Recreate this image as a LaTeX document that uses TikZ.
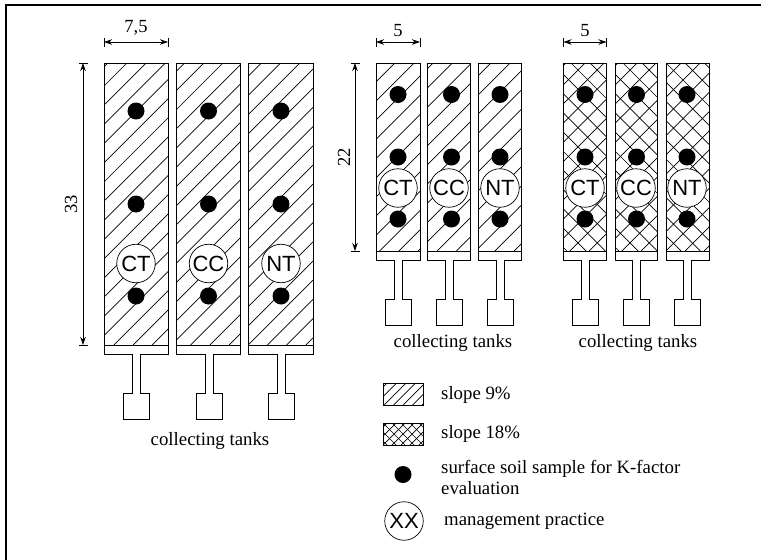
\documentclass[tikz,border=0pt]{standalone}
\usepackage{fontspec}
\setmainfont{Liberation Serif}
\newfontfamily\arialf{Liberation Sans}
\usetikzlibrary{arrows.meta}
\tikzset{
  outline/.style={line width=0.95pt,black,line join=miter},
  hatchline/.style={line width=0.7pt,black},
  samp/.style={circle,fill=black,draw=none,minimum size=17pt,inner sep=0pt},
  mgmt/.style={circle,fill=white,draw=black,line width=0.7pt,minimum size=38.5pt,inner sep=0pt,font=\arialf\fontsize{22}{24}\selectfont},
  caption/.style={anchor=base,inner sep=0pt,font=\fontsize{18.8}{20}\selectfont},
  legendtext/.style={anchor=base west,inner sep=0pt,font=\fontsize{18.8}{20}\selectfont},
  dimtext/.style={inner sep=0pt,font=\fontsize{18.5}{21}\selectfont},
  dimline/.style={line width=0.8pt,black,{Stealth[length=8pt,width=5.5pt]}-{Stealth[length=8pt,width=5.5pt]}},
  dimtick/.style={line width=0.8pt,black},
  frameline/.style={line width=2.2pt,black}
}
% #1 x1, #2 y1, #3 x2, #4 y2, #5 period, #6 phase of x+y
\newcommand{\hatchup}[6]{%
  \begin{scope}
    \clip (#1,#2) rectangle (#3,#4);
    \foreach \n in {0,...,120} {
      \pgfmathsetmacro{\cc}{#6+#5*\n-#5*30}
      \draw[hatchline] ({\cc-#2},#2) -- ({\cc-#4},#4);
    }
  \end{scope}}
\newcommand{\hatchdown}[6]{%
  \begin{scope}
    \clip (#1,#2) rectangle (#3,#4);
    \foreach \n in {0,...,120} {
      \pgfmathsetmacro{\cc}{#6+#5*\n-#5*30}
      \draw[hatchline] ({\cc+#2},#2) -- ({\cc+#4},#4);
    }
  \end{scope}}
% #1 x1, #2 x2, #3 channel centre, #4 inner y, #5 bottom y, #6 channel end y, #7 tank end y
\newcommand{\plateframe}[7]{%
  \draw[outline] (#1,63) rectangle (#2,#4);
  \draw[outline] (#1,#4) -- (#1,#5) -- ({#3-4},#5) -- ({#3-4},#6) -- ({#3-13},#6) -- ({#3-13},#7)
     -- ({#3+13},#7) -- ({#3+13},#6) -- ({#3+4},#6) -- ({#3+4},#5) -- (#2,#5) -- (#2,#4);
}
\begin{document}
\begin{tikzpicture}[x=1pt,y=-1pt]
\useasboundingbox (0,0) rectangle (761,560);
\draw[frameline] (761,5) -- (6,5) -- (6,560);

% large plots
\hatchup{104}{63}{168}{345}{19.2}{190}
\hatchup{176.5}{63}{240}{345}{19.2}{190}
\hatchup{248.5}{63}{313}{345}{19.2}{190}
\plateframe{104}{168}{136}{345}{354}{393}{419}
\plateframe{176.5}{240}{209}{345}{354}{393}{419}
\plateframe{248.5}{313}{281}{345}{354}{393}{419}

\foreach \nm/\xx in {a/136,b/208.5,c/281} {
  \node[samp] (\nm1) at (\xx,111) {};
  \node[samp] (\nm2) at (\xx,204) {};
  \node[samp] (\nm3) at (\xx,296) {};
}
\node[mgmt] (m1) at (136,263.5) {CT};
\node[mgmt] (m2) at (208.5,263.5) {CC};
\node[mgmt] (m3) at (281,263.5) {NT};

% small plots, 9 %
\hatchup{376}{63}{420}{251}{19.2}{189}
\hatchup{427.5}{63}{470.5}{251}{19.2}{189}
\hatchup{478.5}{63}{521.5}{251}{19.2}{189}
\plateframe{376}{420}{398}{251}{260}{299}{325}
\plateframe{427.5}{470.5}{449}{251}{260}{299}{325}
\plateframe{478.5}{521.5}{500}{251}{260}{299}{325}

% small plots, 18 %
\hatchup{563.5}{63}{606.5}{251}{19.2}{648}
\hatchdown{563.5}{63}{606.5}{251}{19.2}{508}
\hatchup{615}{63}{657.5}{251}{19.2}{700}
\hatchdown{615}{63}{657.5}{251}{19.2}{560}
\hatchup{666}{63}{709}{251}{19.2}{744}
\hatchdown{666}{63}{709}{251}{19.2}{603}
\plateframe{563.5}{606.5}{585}{251}{260}{299}{325}
\plateframe{615}{657.5}{636}{251}{260}{299}{325}
\plateframe{666}{709}{687}{251}{260}{299}{325}

\foreach \nm/\xx in {d/398,e/451.5,f/500,g/585,h/636.5,k/687} {
  \node[samp] (\nm1) at (\xx,94.5) {};
  \node[samp] (\nm2) at (\xx,157) {};
  \node[samp] (\nm3) at (\xx,219) {};
}
\node[mgmt] (n1) at (398,188) {CT};
\node[mgmt] (n2) at (449,188) {CC};
\node[mgmt] (n3) at (500,188) {NT};
\node[mgmt] (n4) at (585,188) {CT};
\node[mgmt] (n5) at (636,188) {CC};
\node[mgmt] (n6) at (687,188) {NT};

% dimensions
\coordinate (w1a) at (104,42); \coordinate (w1b) at (168,42);
\draw[dimline] (w1a) -- (w1b);
\draw[dimtick] (104,38) -- (104,47) (168,38) -- (168,47);
\node[dimtext] (w1t) at (136,28) {7,5};

\coordinate (h1a) at (83,63); \coordinate (h1b) at (83,345);
\draw[dimline] (h1a) -- (h1b);
\draw[dimtick] (78.5,63) -- (87.5,63) (78.5,345) -- (87.5,345);
\node[dimtext,rotate=90] (h1t) at (71,204) {33};

\coordinate (w2a) at (376,42); \coordinate (w2b) at (420,42);
\draw[dimline] (w2a) -- (w2b);
\draw[dimtick] (376,38) -- (376,47) (420,38) -- (420,47);
\node[dimtext] (w2t) at (398,31) {5};

\coordinate (w3a) at (563.5,42); \coordinate (w3b) at (606.5,42);
\draw[dimline] (w3a) -- (w3b);
\draw[dimtick] (563.5,38) -- (563.5,47) (606.5,38) -- (606.5,47);
\node[dimtext] (w3t) at (585,31) {5};

\coordinate (h2a) at (355,63); \coordinate (h2b) at (355,251);
\draw[dimline] (h2a) -- (h2b);
\draw[dimtick] (350.5,63) -- (359.5,63) (350.5,251) -- (359.5,251);
\node[dimtext,rotate=90] (h2t) at (344,157) {22};

% captions
\node[caption] (c1) at (210,445) {collecting tanks};
\node[caption] (c2) at (453,347) {collecting tanks};
\node[caption] (c3) at (638,347) {collecting tanks};

% legend
\hatchup{383}{383}{423}{405}{9.5}{770}
\draw[outline] (383,383) rectangle (423,405);
\hatchup{383}{423}{423}{445}{9}{810}
\hatchdown{383}{423}{423}{445}{9}{-40}
\draw[outline] (383,423) rectangle (423,445);
\node[samp] (l3) at (403,474.5) {};
\node[mgmt] (l4) at (404,521) {XX};
\node[legendtext] (t1) at (441,399) {slope 9\%};
\node[legendtext] (t2) at (441,438) {slope 18\%};
\node[legendtext] (t3) at (441,473) {surface soil sample for K-factor};
\node[legendtext] (t4) at (441,494) {evaluation};
\node[legendtext] (t5) at (444,525) {management practice};
\end{tikzpicture}
\end{document}
